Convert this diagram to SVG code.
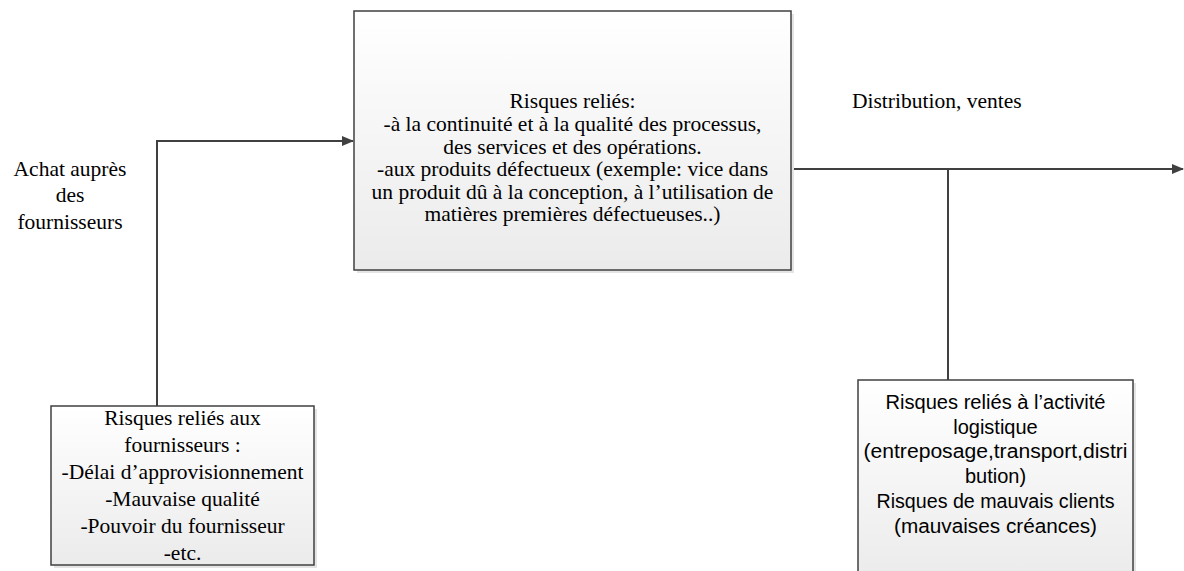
<svg xmlns="http://www.w3.org/2000/svg" width="1184" height="571" viewBox="0 0 1184 571">
  <defs>
    <linearGradient id="boxFill" x1="0" y1="0" x2="0" y2="1">
      <stop offset="0" stop-color="#ffffff"/>
      <stop offset="1" stop-color="#ebebeb"/>
    </linearGradient>
    <marker id="arrow" markerWidth="12" markerHeight="10" refX="11" refY="5" orient="auto" markerUnits="userSpaceOnUse">
      <path d="M0,0 L12,5 L0,10 Z" fill="#404040"/>
    </marker>
    <style>
      .box { fill: url(#boxFill); stroke: #404040; stroke-width: 1.5; }
      .shadow { fill: #e4e4e4; }
      .serif { font-family: "Liberation Serif", "Times New Roman", serif; font-size: 21.5px; fill: #000; }
      .sans { font-family: "Liberation Sans", Arial, sans-serif; font-size: 20px; fill: #000; }
      .conn { fill: none; stroke: #404040; stroke-width: 2; }
    </style>
  </defs>
  <rect width="1184" height="571" fill="#ffffff"/>

  <!-- connectors -->
  <g id="connectors">
    <path class="conn" d="M157,406 L157,141 L353,141" marker-end="url(#arrow)"/>
    <path class="conn" d="M791,169 L1183,169" marker-end="url(#arrow)"/>
    <path class="conn" d="M948,169 L948,380"/>
  </g>

  <!-- free labels -->
  <g id="label-achat" class="serif" font-family="Liberation Serif, serif" text-anchor="middle">
    <text x="70" y="176">Achat auprès</text>
    <text x="70" y="202">des</text>
    <text x="70" y="229">fournisseurs</text>
  </g>
  <g id="label-distribution" class="serif" font-family="Liberation Serif, serif">
    <text x="852" y="108">Distribution, ventes</text>
  </g>

  <!-- central process -->
  <g id="node-processus">
    <rect class="shadow" x="357" y="14" width="437" height="259"/>
    <rect class="box" x="354" y="11" width="437" height="259"/>
    <g class="serif" font-family="Liberation Serif, serif" text-anchor="middle">
      <text x="572.5" y="108">Risques reliés:</text>
      <text x="572.5" y="131">-à la continuité et à la qualité des processus,</text>
      <text x="572.5" y="153.5">des services et des opérations.</text>
      <text x="572.5" y="176">-aux produits défectueux (exemple: vice dans</text>
      <text x="572.5" y="198.5">un produit dû à la conception, à l’utilisation de</text>
      <text x="572.5" y="221">matières premières défectueuses..)</text>
    </g>
  </g>

  <!-- supplier risks -->
  <g id="node-fournisseurs">
    <rect class="shadow" x="54" y="409" width="263" height="159"/>
    <rect class="box" x="51" y="406" width="263" height="159"/>
    <g class="serif" font-family="Liberation Serif, serif" text-anchor="middle">
      <text x="182.5" y="425">Risques reliés aux</text>
      <text x="182.5" y="452">fournisseurs :</text>
      <text x="182.5" y="479">-Délai d’approvisionnement</text>
      <text x="182.5" y="506">-Mauvaise qualité</text>
      <text x="182.5" y="533">-Pouvoir du fournisseur</text>
      <text x="182.5" y="560">-etc.</text>
    </g>
  </g>

  <!-- logistics / customer risks -->
  <g id="node-logistique">
    <rect class="shadow" x="861" y="383" width="275" height="200"/>
    <rect class="box" x="858" y="380" width="275" height="200"/>
    <g class="sans" text-anchor="middle">
      <text x="995.5" y="409" textLength="220" lengthAdjust="spacingAndGlyphs">Risques reliés à l’activité</text>
      <text x="995.5" y="434">logistique</text>
      <text x="995.5" y="458" textLength="264" lengthAdjust="spacingAndGlyphs">(entreposage,transport,distri</text>
      <text x="995.5" y="483">bution)</text>
      <text x="995.5" y="508" textLength="238" lengthAdjust="spacingAndGlyphs">Risques de mauvais clients</text>
      <text x="995.5" y="533" textLength="203" lengthAdjust="spacingAndGlyphs">(mauvaises créances)</text>
    </g>
  </g>
</svg>
